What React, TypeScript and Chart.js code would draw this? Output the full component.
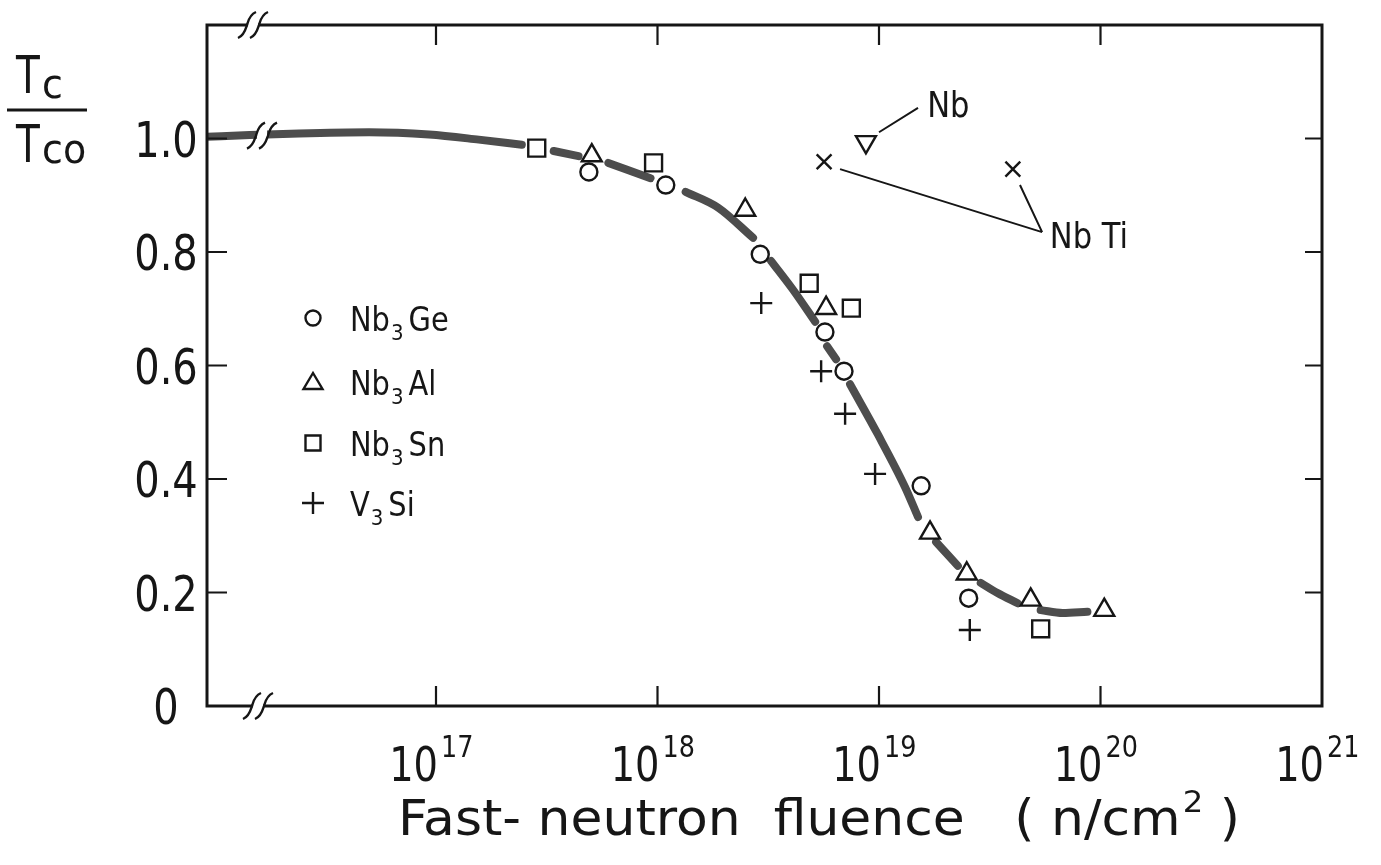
import React, { useEffect, useRef } from 'react';
import { Chart, registerables } from 'chart.js';
Chart.register(...registerables);

const FONT = '"DejaVu Sans", "Liberation Sans", sans-serif';
const INK = '#161616';

const X_MIN = 9.25e15;
const X_MAX = 1e21;
const Y_MIN = 0;
const Y_MAX = 1.2;

const xTickValues = [1e17, 1e18, 1e19, 1e20, 1e21];
const xTickExponents = ['17', '18', '19', '20', '21'];
const yTickValues = [0, 0.2, 0.4, 0.6, 0.8, 1.0];
const yTickLabels = ['0', '0.2', '0.4', '0.6', '0.8', '1.0'];

// Nb3Ge (circles)
const nb3GeX = [4.9e17, 1.09e18, 2.91e18, 5.7e18, 6.95e18, 1.55e19, 2.54e19];
const nb3GeY = [0.941, 0.918, 0.796, 0.659, 0.59, 0.388, 0.19];
// Nb3Al (triangles)
const nb3AlX = [5.05e17, 2.49e18, 5.77e18, 1.7e19, 2.49e19, 4.84e19, 1.04e20];
const nb3AlY = [0.97, 0.874, 0.701, 0.305, 0.233, 0.187, 0.169];
// Nb3Sn (squares)
const nb3SnX = [2.85e17, 9.6e17, 4.84e18, 7.5e18, 5.37e19];
const nb3SnY = [0.983, 0.957, 0.745, 0.701, 0.136];
// V3Si (plus)
const v3SiX = [2.94e18, 5.48e18, 7.03e18, 9.6e18, 2.57e19];
const v3SiY = [0.71, 0.59, 0.515, 0.409, 0.134];
// Nb (inverted triangle)
const nbX = [8.73e18];
const nbY = [0.994];
// NbTi (x)
const nbTiX = [5.65e18, 4.02e19];
const nbTiY = [0.959, 0.946];

// hand-drawn trend curve (null = gap in the drawn line)
const curveX = [
  9.25e15, 1.44e16, 2.41e16, 4.99e16, 9.3e16, 1.56e17, 2.44e17, null,
  3.4e17, 4.4e17, null,
  6.0e17, 9.3e17, null,
  1.34e18, 1.88e18, 2.7e18, null,
  3.26e18, 4.1e18, 5.15e18, null,
  5.83e18, 6.4e18, null,
  7.4e18, 9.9e18, 1.31e19, 1.5e19, null,
  1.81e19, 2.27e19, null,
  2.88e19, 3.43e19, 4.23e19, null,
  5.37e19, 6.75e19, 8.73e19,
];
const curveY = [
  1.003, 1.006, 1.009, 1.011, 1.007, 0.998, 0.989, null,
  0.978, 0.969, null,
  0.957, 0.93, null,
  0.906, 0.878, 0.825, null,
  0.784, 0.733, 0.677, null,
  0.634, 0.611, null,
  0.567, 0.478, 0.386, 0.333, null,
  0.289, 0.247, null,
  0.217, 0.199, 0.181, null,
  0.169, 0.164, 0.166,
];

// annotation anchors (data space)
const nbLabelPos = { x: 1.65e19, y: 1.038 };
const nbLeader = [{ x: 1.0e19, y: 1.011 }, { x: 1.5e19, y: 1.054 }];
const nbTiLabelPos = { x: 5.9e19, y: 0.807 };
const nbTiJoin = { x: 5.45e19, y: 0.835 };
const nbTiLeaderStarts = [{ x: 6.67e18, y: 0.946 }, { x: 4.33e19, y: 0.918 }];

const zip = (xs: (number | null)[], ys: (number | null)[]) => xs.map((x, i) => ({ x, y: ys[i] }));

function txt(ctx: CanvasRenderingContext2D, s: string, x: number, y: number, size: number, align: CanvasTextAlign = 'left', sx = 1) {
  ctx.save();
  ctx.font = `${size}px ${FONT}`;
  ctx.textAlign = align;
  ctx.textBaseline = 'alphabetic';
  ctx.fillStyle = INK;
  ctx.translate(x, y);
  ctx.scale(sx, 1);
  ctx.fillText(s, 0, 0);
  ctx.restore();
}
function tw(ctx: CanvasRenderingContext2D, s: string, size: number, sx = 1) {
  ctx.save();
  ctx.font = `${size}px ${FONT}`;
  const w = ctx.measureText(s).width * sx;
  ctx.restore();
  return w;
}

function breakMark(ctx: CanvasRenderingContext2D, x: number, y: number, gapH: number) {
  ctx.save();
  ctx.fillStyle = '#fff';
  ctx.fillRect(x - 5, y - gapH / 2, 10, gapH);
  ctx.strokeStyle = INK;
  ctx.lineWidth = 2.4;
  for (const dx of [-6, 6]) {
    ctx.beginPath();
    ctx.moveTo(x + dx - 9, y + 13);
    ctx.bezierCurveTo(x + dx - 2, y + 10, x + dx - 1, y + 2, x + dx, y);
    ctx.bezierCurveTo(x + dx + 1, y - 3, x + dx + 2, y - 10, x + dx + 9, y - 13);
    ctx.stroke();
  }
  ctx.restore();
}

function legendMarker(ctx: CanvasRenderingContext2D, kind: string, x: number, y: number) {
  ctx.save();
  ctx.strokeStyle = INK;
  ctx.lineWidth = 2.4;
  ctx.beginPath();
  if (kind === 'circle') {
    ctx.arc(x, y, 7.5, 0, Math.PI * 2);
  } else if (kind === 'triangle') {
    ctx.moveTo(x, y - 9);
    ctx.lineTo(x + 9.5, y + 7);
    ctx.lineTo(x - 9.5, y + 7);
    ctx.closePath();
  } else if (kind === 'rect') {
    ctx.rect(x - 7.5, y - 7.5, 15, 15);
  } else {
    ctx.moveTo(x - 11, y);
    ctx.lineTo(x + 11, y);
    ctx.moveTo(x, y - 11);
    ctx.lineTo(x, y + 11);
  }
  ctx.stroke();
  ctx.restore();
}

const decor = {
  id: 'decor',
  afterDatasetsDraw(chart: any) {
    const ctx: CanvasRenderingContext2D = chart.ctx;
    const a = chart.chartArea;
    const xs = chart.scales.x;
    const ys = chart.scales.y;
    const px = (v: number) => xs.getPixelForValue(v);
    const py = (v: number) => ys.getPixelForValue(v);
    ctx.save();
    ctx.lineCap = 'butt';
    ctx.strokeStyle = INK;

    // frame
    ctx.lineWidth = 3;
    ctx.strokeRect(a.left, a.top, a.right - a.left, a.bottom - a.top);

    // inward ticks
    ctx.lineWidth = 2.2;
    ctx.beginPath();
    xTickValues.slice(0, 4).forEach((v) => {
      const x = px(v);
      ctx.moveTo(x, a.bottom);
      ctx.lineTo(x, a.bottom - 20);
      ctx.moveTo(x, a.top);
      ctx.lineTo(x, a.top + 20);
    });
    yTickValues.slice(1).forEach((v) => {
      const y = py(v);
      ctx.moveTo(a.left, y);
      ctx.lineTo(a.left + 20, y);
      ctx.moveTo(a.right, y);
      ctx.lineTo(a.right - 17, y);
    });
    ctx.stroke();

    // axis breaks
    breakMark(ctx, a.left + 46, a.top, 8);
    breakMark(ctx, a.left + 51, a.bottom, 8);
    breakMark(ctx, a.left + 55, py(1.005), 14);

    // y tick labels
    yTickValues.forEach((v, i) => {
      txt(ctx, yTickLabels[i], a.left - 41, py(v) + 18, 50, 'center', 0.8);
    });

    // x tick labels with superscripts
    xTickValues.forEach((v, i) => {
      const x = px(v);
      txt(ctx, '10', x + 2, 781, 48, 'right', 0.8);
      txt(ctx, xTickExponents[i], x + 5, 757, 30, 'left', 0.85);
    });

    // x-axis title, scaled as a whole to span the reference width
    {
      const main = 'Fast- neutron  fluence   ( n/cm';
      const tail = ' )';
      const S = 50;
      const SUP = 31;
      const natural = tw(ctx, main, S) + tw(ctx, '2', SUP) + 2 + tw(ctx, tail, S);
      const sx = (1240 - 398) / natural;
      let x = 398;
      txt(ctx, main, x, 835, S, 'left', sx);
      x += tw(ctx, main, S, sx) + 2;
      txt(ctx, '2', x, 812, SUP, 'left', sx);
      x += tw(ctx, '2', SUP, sx);
      txt(ctx, tail, x, 835, S, 'left', sx);
    }

    // y-axis title (fraction)
    txt(ctx, 'T', 16, 93, 52, 'left', 0.75);
    txt(ctx, 'c', 42, 98, 40, 'left', 0.95);
    ctx.lineWidth = 3;
    ctx.beginPath();
    ctx.moveTo(7, 110);
    ctx.lineTo(87, 110);
    ctx.stroke();
    txt(ctx, 'T', 16, 162, 52, 'left', 0.75);
    txt(ctx, 'co', 42, 163, 40, 'left', 0.95);

    // legend
    const rows = [
      { kind: 'circle', y: 318, a: 'Nb', s: '3', b: 'Ge' },
      { kind: 'triangle', y: 382, a: 'Nb', s: '3', b: 'Al' },
      { kind: 'rect', y: 443, a: 'Nb', s: '3', b: 'Sn' },
      { kind: 'plus', y: 503, a: 'V', s: '3', b: 'Si' },
    ];
    rows.forEach((r) => {
      legendMarker(ctx, r.kind, 313, r.y);
      const base = r.y + 13;
      let x = 350;
      txt(ctx, r.a, x, base, 34, 'left', 0.85);
      x += tw(ctx, r.a, 34, 0.85) + 1;
      txt(ctx, r.s, x, base + 9, 22, 'left', 0.9);
      x += tw(ctx, r.s, 22, 0.9) + 5;
      txt(ctx, r.b, x, base, 34, 'left', 0.85);
    });

    // annotations
    ctx.lineWidth = 2;
    ctx.beginPath();
    ctx.moveTo(px(nbLeader[0].x), py(nbLeader[0].y));
    ctx.lineTo(px(nbLeader[1].x), py(nbLeader[1].y));
    nbTiLeaderStarts.forEach((p) => {
      ctx.moveTo(px(p.x), py(p.y));
      ctx.lineTo(px(nbTiJoin.x), py(nbTiJoin.y));
    });
    ctx.stroke();
    txt(ctx, 'Nb', px(nbLabelPos.x), py(nbLabelPos.y), 36, 'left', 0.85);
    txt(ctx, 'Nb Ti', px(nbTiLabelPos.x), py(nbTiLabelPos.y), 36, 'left', 0.85);

    ctx.restore();
  },
};

const markerBase = {
  borderColor: INK,
  backgroundColor: 'rgba(0,0,0,0)',
  borderWidth: 2.4,
  showLine: false,
};

export default function App() {
  const ref = useRef<HTMLCanvasElement>(null);
  useEffect(() => {
    document.body.style.margin = '0';
    const chart = new Chart(ref.current as HTMLCanvasElement, {
      type: 'scatter',
      data: {
        datasets: [
          { ...markerBase, label: 'Nb3Ge', data: zip(nb3GeX, nb3GeY), pointStyle: 'circle', pointRadius: 8.5 },
          { ...markerBase, label: 'Nb3Al', data: zip(nb3AlX, nb3AlY), pointStyle: 'triangle', pointRadius: 11.5 },
          { ...markerBase, label: 'Nb3Sn', data: zip(nb3SnX, nb3SnY), pointStyle: 'rect', pointRadius: 12 },
          { ...markerBase, label: 'V3Si', data: zip(v3SiX, v3SiY), pointStyle: 'cross', pointRadius: 11 },
          { ...markerBase, label: 'Nb', data: zip(nbX, nbY), pointStyle: 'triangle', pointRotation: 180, pointRadius: 11.5 },
          { ...markerBase, label: 'NbTi', data: zip(nbTiX, nbTiY), pointStyle: 'crossRot', pointRadius: 10.5 },
          {
            label: 'curve',
            data: zip(curveX, curveY) as any,
            showLine: true,
            pointRadius: 0,
            borderColor: '#4d4d4d',
            borderWidth: 8,
            borderCapStyle: 'round',
            borderJoinStyle: 'round',
            cubicInterpolationMode: 'monotone',
            spanGaps: false,
          } as any,
        ],
      },
      options: {
        animation: false,
        responsive: false,
        devicePixelRatio: 1,
        layout: { padding: { left: 207, top: 25, right: 59, bottom: 159 } },
        scales: {
          x: { type: 'logarithmic', min: X_MIN, max: X_MAX, display: false },
          y: { type: 'linear', min: Y_MIN, max: Y_MAX, display: false },
        },
        plugins: { legend: { display: false }, tooltip: { enabled: false } },
        events: [],
      },
      plugins: [decor],
    } as any);
    return () => chart.destroy();
  }, []);
  return (
    <div style={{ width: 1381, height: 865, background: '#fff', overflow: 'hidden' }}>
      <canvas ref={ref} width={1381} height={865} style={{ display: 'block' }} />
    </div>
  );
}
